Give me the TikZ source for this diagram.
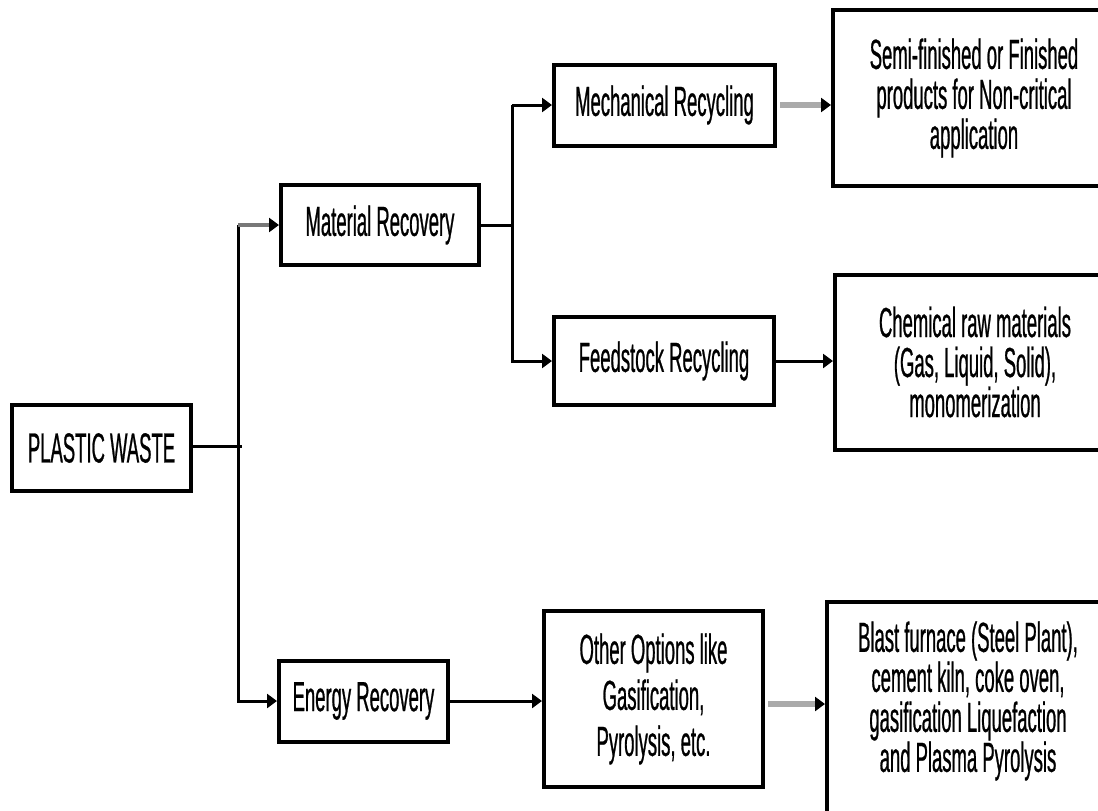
\documentclass[tikz,border=0pt]{standalone}
\usepackage{fontspec}
\newfontfamily\nf[FakeStretch=0.44,FakeBold=0.6]{Liberation Sans}
\usetikzlibrary{arrows.meta}
\definecolor{lgray}{RGB}{170,170,170}
\definecolor{mgray}{RGB}{120,120,120}
\begin{document}
\begin{tikzpicture}[x=1pt,y=-1pt,
  box/.style={draw=black, line width=4pt, fill=white, inner sep=0pt, align=center, font=\nf\fontsize{42}{40}\selectfont},
  txt/.style={inner sep=0pt, align=center, font=\nf\fontsize{42}{40}\selectfont},
  conn/.style={line width=3pt, black},
  tipb/.style={-{Triangle[length=10pt,width=14pt,color=black]}},
  arr/.style={conn, tipb},
  garr/.style={line width=6pt, lgray, tipb},
  marr/.style={line width=4pt, mgray, tipb}
]
\useasboundingbox (0,0) rectangle (1098,811);
\fill[white] (0,0) rectangle (1098,811);
\clip (0,0) rectangle (1098,811);

\node[box, minimum width=179, minimum height=86] (pw) at (101.5,448) {PLASTIC WASTE};
\node[box, minimum width=198, minimum height=80] (mr) at (380,225) {Material Recovery};
\node[box, minimum width=221, minimum height=81] (mech) at (664.5,105) {Mechanical Recycling};
\node[box, minimum width=282, minimum height=176] (semi) at (974,98) {Semi-finished or Finished\\products for Non-critical\\application};
\node[box, minimum width=220, minimum height=88] (feed) at (664,361) {Feedstock Recycling};
\node[box, minimum width=280, minimum height=175] (chem) at (975,362) {Chemical raw materials\\(Gas, Liquid, Solid),\\monomerization};
\node[box, minimum width=169, minimum height=81] (en) at (363.5,701) {Energy Recovery};
\node[box, minimum width=219, minimum height=176, font=\nf\fontsize{42}{46}\selectfont] (oth) at (653.5,699) {Other Options like\\Gasification,\\Pyrolysis, etc.};
\node[box, minimum width=290, minimum height=240, anchor=north west] (blast) at (825,600) {};
\node[txt] (blastt) at (968,701) {Blast furnace (Steel Plant),\\cement kiln, coke oven,\\gasification Liquefaction\\and Plasma Pyrolysis};

\coordinate (j) at (242,446);
\coordinate (t1) at (238,225);
\coordinate (t2) at (238,701);
\coordinate (v1) at (512,105);
\coordinate (v2) at (512,361);

\draw[conn] (pw.east |- j) -- (j);
\draw[arr] (t1) -- (t2) -- (en.west);
\draw[marr] (t1) -- (mr.west);
\draw[conn] (mr.east) -- (mr.east -| v1);
\draw[arr] (v1) -- (mech.west);
\draw[arr] (v1) -- (v2) -- (feed.west);
\draw[garr] ([xshift=3pt]mech.east) -- (mech.east -| semi.west);
\draw[arr] (feed.east) -- (feed.east -| chem.west);
\draw[arr] (en.east) -- (en.east -| oth.west);
\draw[garr] ([xshift=3pt,yshift=-5pt]oth.east) -- ([yshift=-5pt]oth.east -| blast.west);
\end{tikzpicture}
\end{document}
